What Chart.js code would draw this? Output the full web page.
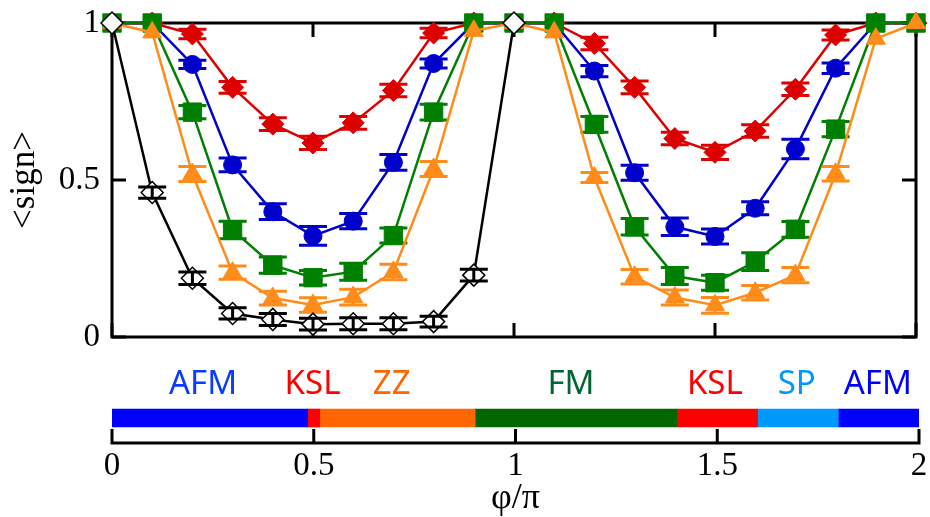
<!DOCTYPE html>
<html>
<head>
<meta charset="utf-8">
<script src="https://cdn.jsdelivr.net/npm/chart.js@4.4.1/dist/chart.umd.min.js"></script>
<style>
  body { margin: 0; background: #fff; }
  canvas { position: absolute; left: 0; }
  #signChart { top: 0; }
  #phaseChart { top: 360px; }
</style>
</head>
<body>
<canvas id="signChart" width="930" height="360"></canvas>
<canvas id="phaseChart" width="930" height="157"></canvas>
<script>
// phi / pi
const phi = [0, 0.1, 0.2, 0.3, 0.4, 0.5, 0.6, 0.7, 0.8, 0.9, 1.0,
  1.1, 1.2, 1.3, 1.4, 1.5, 1.6, 1.7, 1.8, 1.9, 2.0]

const signRed = [1.0, 1.0, 0.965, 0.795, 0.678, 0.618, 0.682, 0.785, 0.968, 1.0, 1.0,
  1.0, 0.935, 0.795, 0.632, 0.588, 0.656, 0.789, 0.962, 1.0, 1.0]
const errRed = [0, 0, 0.015, 0.019, 0.02, 0.021, 0.02, 0.02, 0.015, 0, 0,
  0, 0.02, 0.02, 0.02, 0.023, 0.02, 0.02, 0.016, 0, 0]

const signBlue = [1.0, 1.0, 0.868, 0.548, 0.399, 0.322, 0.369, 0.556, 0.871, 1.0, 1.0,
  1.0, 0.847, 0.523, 0.351, 0.32, 0.41, 0.599, 0.856, 1.0, 1.0]
const errBlue = [0, 0, 0.013, 0.022, 0.025, 0.03, 0.024, 0.025, 0.014, 0, 0,
  0, 0.018, 0.024, 0.028, 0.024, 0.021, 0.031, 0.017, 0, 0]

const signGreen = [1.0, 1.0, 0.716, 0.341, 0.229, 0.189, 0.208, 0.323, 0.716, 1.0, 1.0,
  1.0, 0.677, 0.351, 0.194, 0.173, 0.24, 0.343, 0.662, 1.0, 1.0]
const errGreen = [0, 0, 0.021, 0.028, 0.026, 0.023, 0.027, 0.024, 0.025, 0, 0,
  0, 0.025, 0.026, 0.027, 0.024, 0.028, 0.025, 0.024, 0, 0]

const signOrange = [1.0, 0.97, 0.519, 0.205, 0.124, 0.102, 0.127, 0.207, 0.535, 0.975, 1.0,
  0.97, 0.508, 0.192, 0.126, 0.101, 0.141, 0.197, 0.52, 0.95, 1.0]
const errOrange = [0, 0, 0.024, 0.021, 0.022, 0.023, 0.025, 0.025, 0.024, 0, 0,
  0, 0.016, 0.023, 0.024, 0.025, 0.023, 0.024, 0.023, 0, 0]

// only 0..1
const signBlack = [1.0, 0.46, 0.187, 0.075, 0.056, 0.041, 0.042, 0.042, 0.049, 0.197, 1.0]
const errBlack = [0, 0.018, 0.02, 0.018, 0.019, 0.019, 0.019, 0.019, 0.017, 0.019, 0]

const xTicks = [0, 0.5, 1, 1.5, 2]
const yTicks = [0, 0.5, 1]

// phase diagram strip
const phaseNames = ['AFM', 'KSL', 'ZZ', 'FM', 'KSL', 'SP', 'AFM']
const phaseStart = [0, 0.485, 0.515, 0.9, 1.4, 1.6, 1.8]
const phaseEnd = [0.485, 0.515, 0.9, 1.4, 1.6, 1.8, 2.0]
const phaseLabelAt = [0.2255, 0.497, 0.693, 1.1375, 1.494, 1.697, 1.898]
const phaseBarColors = ['#0000ff', '#ff0000', '#ff6600', '#006600', '#ff0000', '#0099ff', '#0000ff']
const phaseTextColors = ['#0a3cff', '#ff0000', '#ff6600', '#006633', '#ff0000', '#0099ff', '#0000ff']

const serif = 'Liberation Serif'
const tickLen = 14

const pts = (ys) => ys.map((y, i) => ({ x: phi[i], y: y }))
const plain = (v) => String(v)

const series = (label, ys, errs, color, style, radius, order) => ({
  label: label,
  data: pts(ys),
  errors: errs,
  borderColor: color,
  backgroundColor: color,
  pointBackgroundColor: color,
  pointBorderColor: color,
  pointBorderWidth: 1,
  pointStyle: style,
  pointRadius: radius,
  borderWidth: 2.5,
  tension: 0,
  clip: false,
  order: order,
})

const blackSeries = series('black', signBlack, errBlack, '#000000', 'rectRot', 11, 1)
blackSeries.pointBackgroundColor = '#ffffff'
blackSeries.pointBorderWidth = 1.5

// error bars, drawn after each dataset
const errorBars = {
  id: 'errorBars',
  afterDatasetDraw(chart, args) {
    const ds = chart.data.datasets[args.index]
    if (!ds.errors) return
    const { ctx, scales: { x, y } } = chart
    ctx.save()
    ctx.strokeStyle = ds.borderColor
    ctx.lineWidth = 3
    ds.data.forEach((p, i) => {
      const e = ds.errors[i]
      if (!e) return
      const px = x.getPixelForValue(p.x)
      const yt = y.getPixelForValue(p.y + e)
      const yb = y.getPixelForValue(p.y - e)
      ctx.beginPath()
      ctx.moveTo(px, yt)
      ctx.lineTo(px, yb)
      ctx.moveTo(px - 14, yt)
      ctx.lineTo(px + 14, yt)
      ctx.moveTo(px - 14, yb)
      ctx.lineTo(px + 14, yb)
      ctx.stroke()
    })
    ctx.restore()
  },
}

const frame = {
  id: 'frame',
  beforeDatasetsDraw(chart) {
    const { ctx, chartArea: a, scales: { x, y } } = chart
    ctx.save()
    ctx.strokeStyle = '#000'
    ctx.lineWidth = 3
    ctx.strokeRect(a.left, a.top, a.right - a.left, a.bottom - a.top)
    ctx.beginPath()
    xTicks.forEach((v) => {
      const px = x.getPixelForValue(v)
      ctx.moveTo(px, a.top)
      ctx.lineTo(px, a.top + tickLen)
      ctx.moveTo(px, a.bottom)
      ctx.lineTo(px, a.bottom - tickLen)
    })
    yTicks.forEach((v) => {
      const py = y.getPixelForValue(v)
      ctx.moveTo(a.left, py)
      ctx.lineTo(a.left + tickLen, py)
      ctx.moveTo(a.right, py)
      ctx.lineTo(a.right - tickLen, py)
    })
    ctx.stroke()
    ctx.restore()
  },
}

new Chart(document.getElementById('signChart'), {
  type: 'line',
  data: {
    datasets: [
      blackSeries,
      series('orange', signOrange, errOrange, '#ff8c1a', 'triangle', 11, 2),
      series('green', signGreen, errGreen, '#008000', 'rect', 13, 3),
      series('blue', signBlue, errBlue, '#0000cc', 'circle', 9, 4),
      series('red', signRed, errRed, '#dd0000', 'rectRot', 11, 5),
    ],
  },
  options: {
    responsive: false,
    animation: false,
    events: [],
    devicePixelRatio: 1,
    layout: { padding: { left: 0, right: 11, top: 23, bottom: 23 } },
    plugins: { legend: { display: false }, tooltip: { enabled: false } },
    scales: {
      x: { type: 'linear', min: 0, max: 2, display: false },
      y: {
        type: 'linear',
        min: 0,
        max: 1,
        afterFit: (s) => {
          s.width = 112
          s.paddingTop = 0
          s.paddingBottom = 0
        },
        grid: { display: false, drawTicks: false },
        border: { display: false },
        ticks: {
          stepSize: 0.5,
          padding: 12,
          color: '#000',
          font: { family: serif, size: 33 },
          callback: plain,
        },
        title: {
          display: true,
          text: '<sign>',
          color: '#000',
          font: { family: serif, size: 35 },
          padding: { top: 4, bottom: 0 },
        },
      },
    },
  },
  plugins: [frame, errorBars],
})

// lower strip: phases + shared x axis
const phaseLabels = {
  id: 'phaseLabels',
  afterDraw(chart) {
    const { ctx, chartArea: a, scales: { x } } = chart
    ctx.save()
    ctx.strokeStyle = '#000'
    ctx.lineWidth = 3
    ctx.beginPath()
    ctx.moveTo(x.getPixelForValue(0) - 1.5, a.bottom)
    ctx.lineTo(x.getPixelForValue(2) + 1.5, a.bottom)
    xTicks.forEach((v) => {
      const px = x.getPixelForValue(v)
      ctx.moveTo(px, a.bottom)
      ctx.lineTo(px, a.bottom - tickLen)
    })
    ctx.stroke()
    ctx.font = '33px "Noto Sans"'
    ctx.textAlign = 'center'
    ctx.textBaseline = 'middle'
    phaseNames.forEach((n, i) => {
      ctx.fillStyle = phaseTextColors[i]
      ctx.fillText(n, x.getPixelForValue(phaseLabelAt[i]), 25)
    })
    ctx.restore()
  },
}

new Chart(document.getElementById('phaseChart'), {
  type: 'bar',
  data: {
    labels: [''],
    datasets: phaseNames.map((n, i) => ({
      label: n,
      data: [[phaseStart[i], phaseEnd[i]]],
      backgroundColor: phaseBarColors[i],
      borderWidth: 0,
      borderSkipped: false,
      barThickness: 18,
      grouped: false,
    })),
  },
  options: {
    indexAxis: 'y',
    responsive: false,
    animation: false,
    events: [],
    devicePixelRatio: 1,
    layout: { padding: { left: 112, right: 11, top: 33, bottom: 0 } },
    plugins: { legend: { display: false }, tooltip: { enabled: false } },
    scales: {
      y: { type: 'category', display: false },
      x: {
        type: 'linear',
        min: 0,
        max: 2,
        afterFit: (s) => {
          s.height = 74
          s.paddingLeft = 0
          s.paddingRight = 0
        },
        grid: { display: false, drawTicks: false },
        border: { display: false },
        ticks: {
          stepSize: 0.5,
          padding: 4,
          color: '#000',
          font: { family: serif, size: 33 },
          callback: plain,
        },
        title: {
          display: true,
          text: 'φ/π',
          color: '#000',
          font: { family: serif, size: 36, lineHeight: 1 },
          padding: { top: 0, bottom: 0 },
        },
      },
    },
  },
  plugins: [phaseLabels],
})
</script>
</body>
</html>
